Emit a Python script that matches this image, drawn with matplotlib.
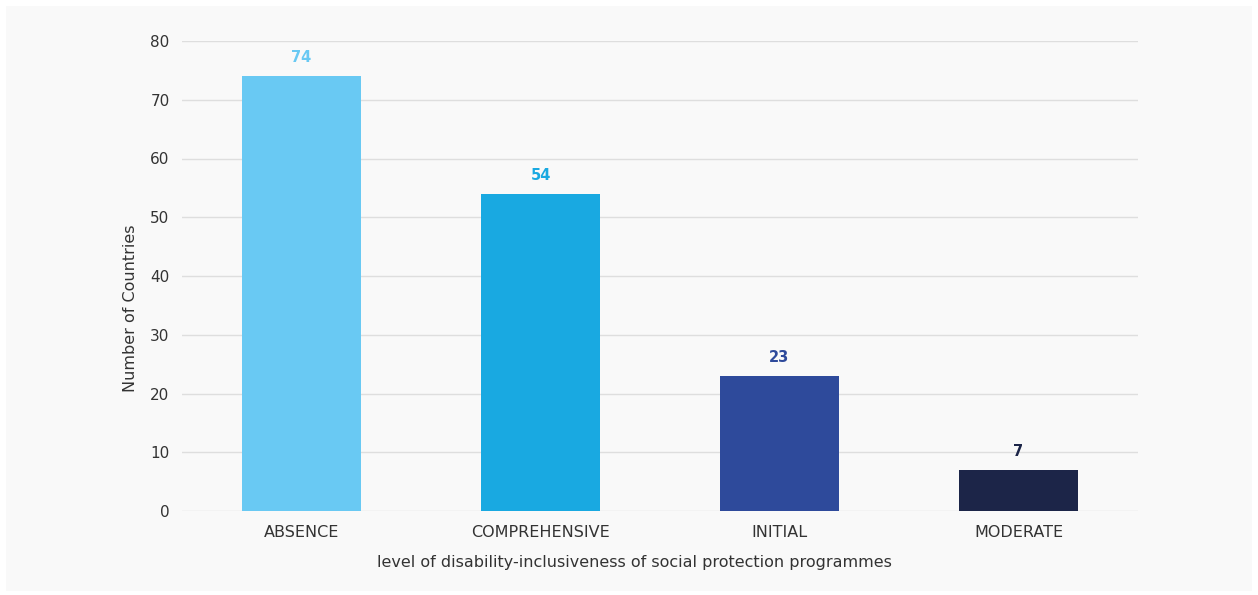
import matplotlib.pyplot as plt
from matplotlib.patches import Rectangle

plt.rcParams['font.family'] = ['DejaVu Sans']

categories = ["ABSENCE", "COMPREHENSIVE", "INITIAL", "MODERATE"]
counts = [74, 54, 23, 7]
colors = ["#69c9f3", "#19a9e1", "#2e4a9b", "#1c2548"]

fig = plt.figure(figsize=(12.58, 5.95), dpi=100, facecolor="white")
# light panel behind the chart
fig.patches.append(Rectangle((6 / 1258, 4 / 595), 1246 / 1258, 585 / 595,
                             transform=fig.transFigure, facecolor="#f9f9f9",
                             edgecolor="none", zorder=-1))

ax = fig.add_axes([182 / 1258, 84 / 595, 956 / 1258, 470 / 595])
ax.set_facecolor("none")

x = range(len(categories))
bars = ax.bar(x, counts, width=0.5, color=colors, zorder=3)
for xi, v, c in zip(x, counts, colors):
    ax.annotate(str(v), (xi, v), xytext=(0, 8), textcoords="offset points",
                ha="center", va="bottom", fontsize=10.5, fontweight="bold", color=c)

ax.set_xlim(-0.5, 3.5)
ax.set_ylim(0, 80)
ax.set_yticks(range(0, 81, 10))
ax.set_xticks(list(x))
ax.set_xticklabels(categories, fontsize=11.5)
ax.grid(axis="y", color="#dedede", linewidth=1, zorder=0)
for s in ax.spines.values():
    s.set_visible(False)
ax.tick_params(axis="both", length=0, colors="#333333")
ax.tick_params(axis="y", pad=9, labelsize=11)
ax.tick_params(axis="x", pad=10)

ax.set_ylabel("Number of Countries", fontsize=11.5, color="#333333", labelpad=9)
ax.set_xlabel("level of disability-inclusiveness of social protection programmes",
              fontsize=11.5, color="#333333", labelpad=11)
# the axis titles sit a little off-centre
ax.xaxis.label.set_x(0.473)
ax.yaxis.label.set_y(0.432)

plt.savefig("out.png", dpi=100, facecolor="white")
